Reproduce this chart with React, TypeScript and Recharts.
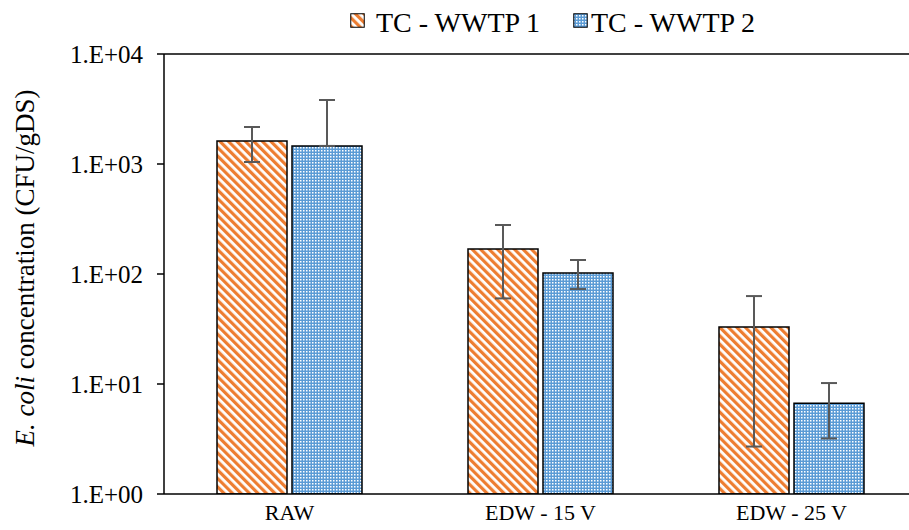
import React from "react";
import { BarChart, Bar, XAxis, YAxis, ErrorBar, ReferenceLine } from "recharts";

const categories = ["RAW", "EDW - 15 V", "EDW - 25 V"];
const wwtp1 = [1620, 169, 33];
const wwtp1Low = [1043, 60, 2.7];
const wwtp1High = [2170, 279, 63];
const wwtp2 = [1460, 102, 6.7];
const wwtp2Low = [1460, 73, 3.2];
const wwtp2High = [3820, 134, 10.2];
const yTicks = [1, 10, 100, 1000, 10000];
const seriesNames = ["TC - WWTP 1", "TC - WWTP 2"];

const data = categories.map((c, i) => ({
  name: c,
  a: wwtp1[i],
  aErr: [wwtp1[i] - wwtp1Low[i], wwtp1High[i] - wwtp1[i]],
  b: wwtp2[i],
  bErr: [wwtp2[i] - wwtp2Low[i], wwtp2High[i] - wwtp2[i]],
}));

const FONT = "Liberation Serif, Times New Roman, serif";
const ORANGE = "#ED7D31";
const BLUE = "#5B9BD5";

const fmt = (v: number) => {
  const e = Math.round(Math.log10(v));
  return `1.E+${e < 10 ? "0" + e : e}`;
};

const YLabel = (props: any) => {
  const vb = props.viewBox || {};
  const cy = vb.y + vb.height / 2 - 6;
  const cx = 34;
  return (
    <text
      x={cx}
      y={cy}
      transform={`rotate(-90, ${cx}, ${cy})`}
      textAnchor="middle"
      fontFamily={FONT}
      fontSize={27}
      fill="#000"
    >
      <tspan fontStyle="italic">E. coli</tspan>
      <tspan> concentration (CFU/gDS)</tspan>
    </text>
  );
};

const Legend = () => (
  <svg width={909} height={48} style={{ position: "absolute", left: 0, top: 0 }}>
    <rect x={350.75} y={13.75} width={13.5} height={13.5} fill="url(#stripes)" stroke="#000" strokeWidth={1} />
    <text x={376} y={32} fontFamily={FONT} fontSize={28} fill="#000">
      {seriesNames[0]}
    </text>
    <rect x={573.75} y={13.75} width={13.5} height={13.5} fill="url(#checks)" stroke="#000" strokeWidth={1} />
    <text x={591} y={32} fontFamily={FONT} fontSize={28} fill="#000">
      {seriesNames[1]}
    </text>
  </svg>
);

export default function App() {
  return (
    <div style={{ position: "absolute", left: 0, top: 0, width: 909, height: 530, overflow: "hidden", background: "#fff" }}>
      <BarChart
        width={930}
        height={530}
        data={data}
        margin={{ top: 54, right: 13, bottom: 6, left: 0 }}
        barSize={70}
        barGap={5}
      >
        <defs>
          <pattern id="stripes" width="6" height="6" patternUnits="userSpaceOnUse" patternTransform="rotate(-45)">
            <rect width="6" height="6" fill="#fff" />
            <rect width="3.2" height="6" fill={ORANGE} />
          </pattern>
          <pattern id="checks" width="3" height="3" patternUnits="userSpaceOnUse">
            <rect width="3" height="3" fill={BLUE} />
            <rect width="1.5" height="1.5" fill="#fff" />
          </pattern>
        </defs>
        <XAxis
          dataKey="name"
          tickLine={false}
          axisLine={{ stroke: "#000", strokeWidth: 1.5 }}
          tick={{ fill: "#000", fontFamily: FONT, fontSize: 22 }}
          tickMargin={4}
          height={30}
        />
        <YAxis
          type="number"
          scale="log"
          domain={[1, 10000]}
          ticks={yTicks}
          allowDataOverflow
          tickFormatter={fmt}
          width={164}
          axisLine={{ stroke: "#000", strokeWidth: 1.5 }}
          tickLine={{ stroke: "#000", strokeWidth: 1.5 }}
          tickSize={7}
          tickMargin={14}
          tick={{ fill: "#000", fontFamily: FONT, fontSize: 25 }}
          label={<YLabel />}
        />
        <ReferenceLine y={10000} stroke="#000" strokeWidth={1.5} ifOverflow="visible" />
        <Bar dataKey="a" fill="url(#stripes)" stroke="#000" strokeWidth={1.5} isAnimationActive={false}>
          <ErrorBar dataKey="aErr" width={8} stroke="#595959" strokeWidth={2} />
        </Bar>
        <Bar dataKey="b" fill="url(#checks)" stroke="#000" strokeWidth={1.5} isAnimationActive={false}>
          <ErrorBar dataKey="bErr" width={8} stroke="#595959" strokeWidth={2} />
        </Bar>
      </BarChart>
      <Legend />
    </div>
  );
}
